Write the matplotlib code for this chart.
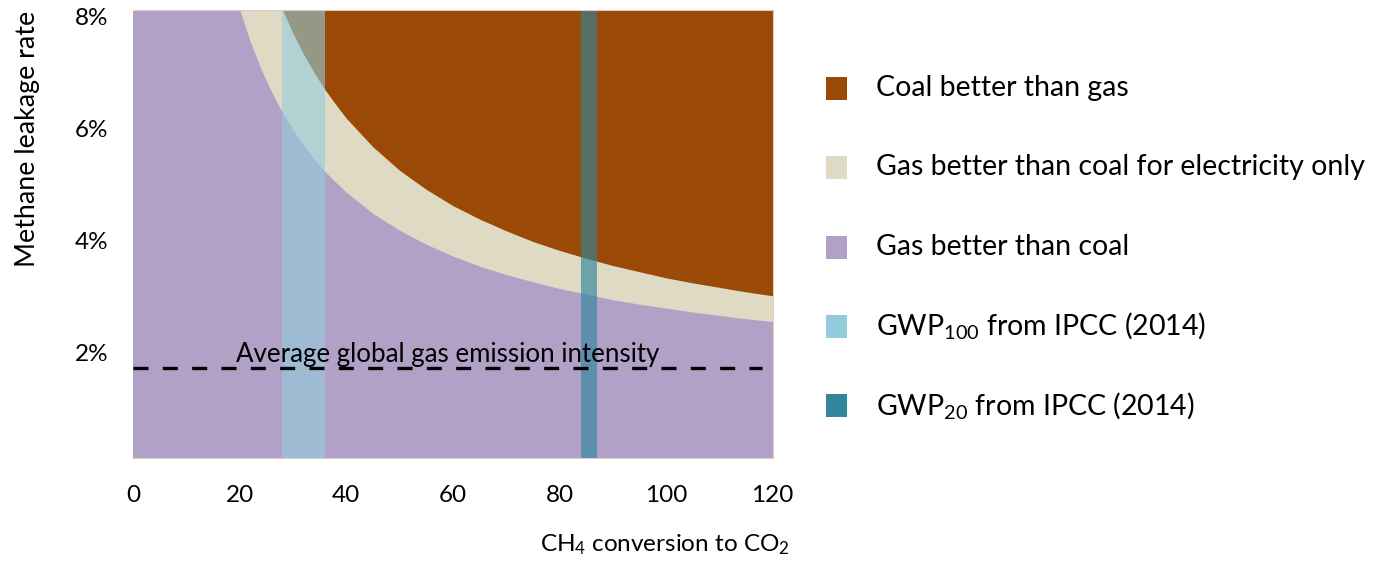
import matplotlib
matplotlib.use('Agg')
import matplotlib.pyplot as plt
from matplotlib.patches import Rectangle
from matplotlib.transforms import ScaledTranslation

plt.rcParams['font.family'] = ['Lato', 'DejaVu Sans']
plt.rcParams['mathtext.fontset'] = 'custom'
plt.rcParams['mathtext.rm'] = 'Lato'
plt.rcParams['mathtext.default'] = 'regular'

# leakage rate (%) at which gas = coal
x_elec = [20, 22, 24, 26, 28, 30, 32, 34, 36, 38, 40, 45, 50, 55, 60, 65, 70,
          75, 80, 85, 90, 95, 100, 105, 110, 115, 120]
leak_elec = [8.00, 7.43, 6.94, 6.53, 6.17, 5.85, 5.58, 5.33, 5.11, 4.92, 4.74,
             4.36, 4.06, 3.81, 3.60, 3.42, 3.27, 3.14, 3.02, 2.92, 2.82, 2.74,
             2.67, 2.60, 2.54, 2.48, 2.43]
x_coal = [28, 30, 32, 34, 36, 38, 40, 45, 50, 55, 60, 65, 70, 75, 80, 85, 90,
          95, 100, 105, 110, 115, 120]
leak_coal = [8.00, 7.58, 7.20, 6.87, 6.57, 6.31, 6.06, 5.55, 5.13, 4.79, 4.50,
             4.26, 4.05, 3.86, 3.70, 3.56, 3.43, 3.32, 3.21, 3.12, 3.04, 2.96,
             2.89]

gwp100 = (28, 36)
gwp20 = (84, 87)
avg_intensity = 1.6

labels = ['Coal better than gas', 'Gas better than coal for electricity only',
          'Gas better than coal', 'GWP$_{100}$ from IPCC (2014)',
          'GWP$_{20}$ from IPCC (2014)']

BROWN, BEIGE, PURPLE = '#9A4906', '#DFDAC4', '#B1A1C7'
LBLUE, DBLUE = '#93CDDD', '#31859C'

fig = plt.figure(figsize=(13.88, 5.61), dpi=100)
ax = fig.add_axes([133/1388, 1 - 457.7/561, 639.7/1388, 448.2/561])

ax.fill_between([0, 120], 0, 8, color=PURPLE, lw=0)
ax.fill_between(x_elec, leak_elec, 8, color=BEIGE, lw=0)
ax.fill_between(x_coal, leak_coal, 8, color=BROWN, lw=0)
ax.axvspan(*gwp100, color=LBLUE, alpha=0.6, lw=0)
ax.axvspan(*gwp20, color=DBLUE, alpha=0.65, lw=0)

ax.plot([0, 118], [avg_intensity, avg_intensity], color='black', lw=2.4,
        dashes=(4.5, 4.3))
ax.text(19.3, avg_intensity + 0.02, 'Average global gas emission intensity',
        fontsize=18.6, va='bottom', ha='left')

ax.set_xlim(0, 120)
ax.set_ylim(0, 8)
ax.set_xticks(range(0, 121, 20))
ax.set_yticks([2, 4, 6, 8])
ax.set_yticklabels(['2%', '4%', '6%', '8%'])
ax.tick_params(length=0, labelsize=17.5)
ax.tick_params(axis='y', pad=18)
ax.tick_params(axis='x', pad=20)
for lbl in ax.get_yticklabels():
    lbl.set_transform(lbl.get_transform() + ScaledTranslation(0, -7/100, fig.dpi_scale_trans))
ax.spines['left'].set_visible(False)
for side in ['top', 'bottom', 'right']:
    ax.spines[side].set_color('#DDCFC0')
    ax.spines[side].set_linewidth(0.8)

fig.text(665/1388, 1 - 545/561, 'CH$_4$ conversion to CO$_2$', fontsize=17.5,
         ha='center', va='center')
fig.text(28/1388, 1 - 139/561, 'Methane leakage rate', fontsize=19.3,
         rotation=90, ha='center', va='center')

# legend drawn in pixel coordinates of the figure
lg = fig.add_axes([0, 0, 1, 1])
lg.set_xlim(0, 1388)
lg.set_ylim(561, 0)
lg.axis('off')
for i, (lab, col) in enumerate(zip(labels, [BROWN, BEIGE, PURPLE, LBLUE, DBLUE])):
    yc = 88 + i * 79.3
    lg.add_patch(Rectangle((826, yc - 11), 21, 23, color=col, lw=0))
    lg.text(876, yc, lab, fontsize=20.5, va='center', ha='left')

fig.savefig('out.png', dpi=100)
